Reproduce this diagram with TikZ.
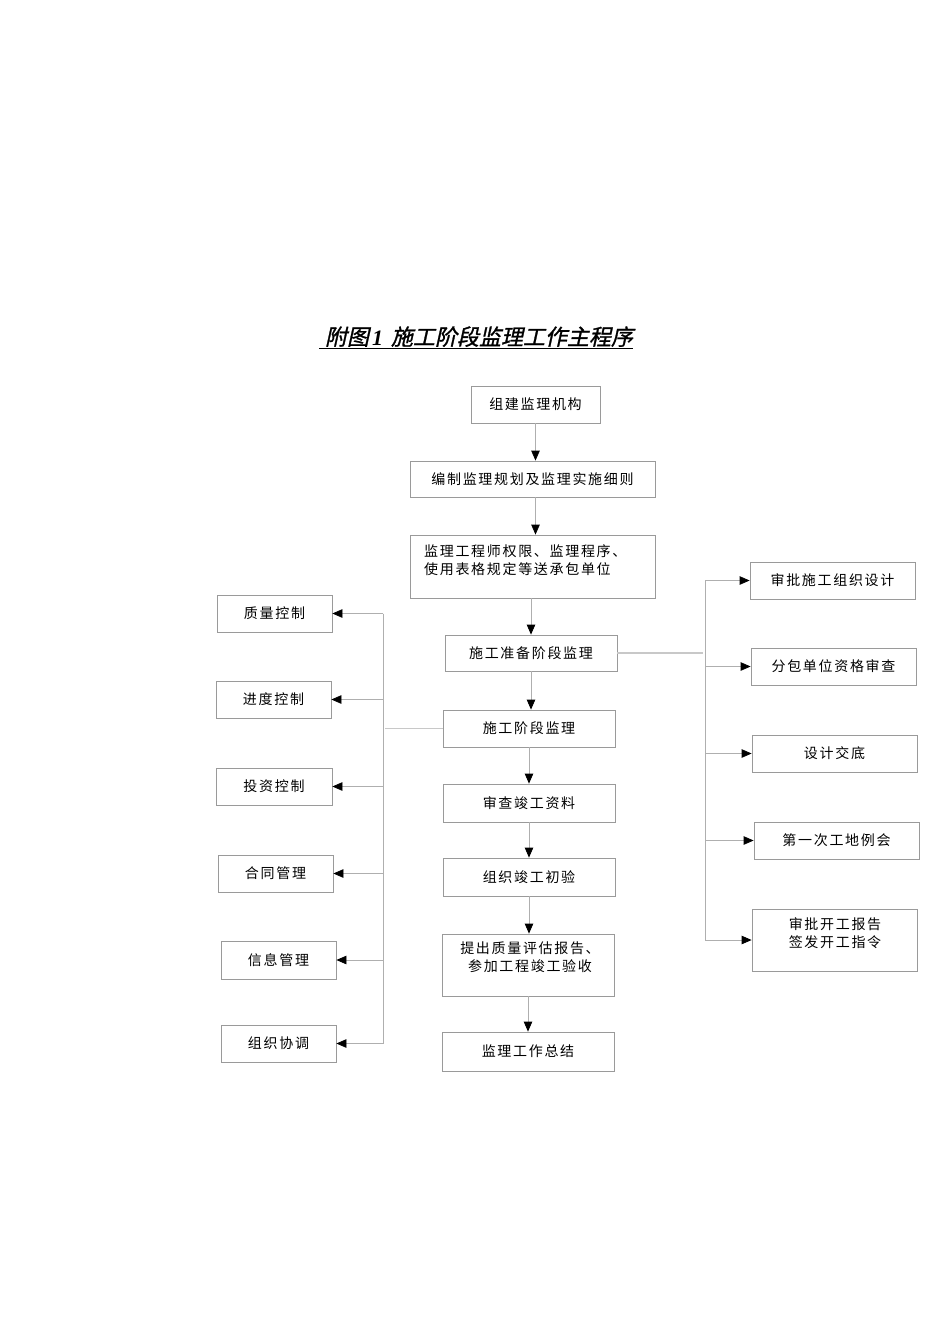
\documentclass[tikz,border=0pt]{standalone}
\usepackage{fontspec}
\setmainfont{Liberation Serif}
\newfontfamily\cjk[LetterSpace=12]{Noto Sans CJK SC}
\newfontfamily\cjkt[FakeSlant=0.22,FakeBold=1.2]{Noto Sans CJK SC}
\usetikzlibrary{arrows.meta}
\definecolor{boxgray}{HTML}{9A9A9A}
\definecolor{linegray}{HTML}{AFAFAF}
\definecolor{feedgray}{HTML}{C8C8C8}
\begin{document}
\begin{tikzpicture}[x=1pt,y=-1pt,
  box/.style={draw=boxgray, line width=0.8pt, inner sep=0pt, fill=white,
    font=\cjk\fontsize{14}{18}\selectfont},
  txt/.style={inner sep=0pt, font=\cjk\fontsize{14}{18}\selectfont},
  arr/.style={draw=linegray, line width=0.8pt, -{Triangle[length=10pt,width=8.5pt,color=black]}},
  bus/.style={draw=linegray, line width=0.8pt},
  feed/.style={draw=feedgray, line width=1.6pt}]
\useasboundingbox (0,0) rectangle (950,1344);
\fill[white] (0,0) rectangle (950,1344);

% title
\node[inner sep=0pt, anchor=base] (title) at (476,345)
  {\underline{\hspace{6pt}{\cjkt\fontsize{22}{26}\selectfont 附图}\hspace{3pt}{\bfseries\itshape\fontsize{22}{26}\selectfont 1\hspace{8pt}}{\cjkt\fontsize{22}{26}\selectfont 施工阶段监理工作主程序}}};

% main column
\node[box, minimum width=129, minimum height=37] (a) at (535.5,404.5) {组建监理机构};
\node[box, minimum width=245, minimum height=36] (b) at (532.5,479) {编制监理规划及监理实施细则};
\node[box, minimum width=245, minimum height=63] (c) at (532.5,566.5) {};
\node[txt, anchor=north west, align=left] (ct) at (424,544) {监理工程师权限、监理程序、\\使用表格规定等送承包单位};
\node[box, minimum width=172, minimum height=36] (d) at (531,653) {施工准备阶段监理};
\node[box, minimum width=172, minimum height=37] (e) at (529,728.5) {施工阶段监理};
\node[box, minimum width=172, minimum height=38] (f) at (529,803) {审查竣工资料};
\node[box, minimum width=172, minimum height=38] (g) at (529,877) {组织竣工初验};
\node[box, minimum width=172, minimum height=62] (h) at (528,965) {};
\node[txt, anchor=north, align=center] (ht) at (530,942) {提出质量评估报告、\\参加工程竣工验收};
\node[box, minimum width=172, minimum height=39] (i) at (528,1051.5) {监理工作总结};

% left column
\node[box, minimum width=115, minimum height=37] (l1) at (274.5,613.5) {质量控制};
\node[box, minimum width=115, minimum height=37] (l2) at (273.5,699.5) {进度控制};
\node[box, minimum width=116, minimum height=37] (l3) at (274,786.5) {投资控制};
\node[box, minimum width=115, minimum height=37] (l4) at (275.5,873.5) {合同管理};
\node[box, minimum width=115, minimum height=38] (l5) at (278.5,960) {信息管理};
\node[box, minimum width=115, minimum height=37] (l6) at (278.5,1043.5) {组织协调};

% right column
\node[box, minimum width=165, minimum height=37] (r1) at (832.5,580.5) {审批施工组织设计};
\node[box, minimum width=165, minimum height=37] (r2) at (833.5,666.5) {分包单位资格审查};
\node[box, minimum width=165, minimum height=37] (r3) at (834.5,753.5) {设计交底};
\node[box, minimum width=165, minimum height=37] (r4) at (836.5,840.5) {第一次工地例会};
\node[box, minimum width=165, minimum height=62] (r5) at (834.5,940) {};
\node[txt, anchor=north, align=center] (r5t) at (835,917) {审批开工报告\\签发开工指令};

% main arrows
\draw[arr] (a.south) -- (a.south |- b.north);
\draw[arr] (a.south |- b.south) -- (a.south |- c.north);
\draw[arr] (d.north |- c.south) -- (d.north);
\draw[arr] (d.south) -- (d.south |- e.north);
\draw[arr] (e.south) -- (e.south |- f.north);
\draw[arr] (f.south) -- (f.south |- g.north);
\draw[arr] (g.south) -- (g.south |- h.north);
\draw[arr] (h.south) -- (h.south |- i.north);

% left bus
\coordinate (lb) at (383,0);
\draw[feed] (e.west) -- ([xshift=2pt]lb |- e.west);
\draw[bus] (lb |- l1.east) -- (lb |- l6.east);
\foreach \n in {l1,l2,l3,l4,l5,l6}
  \draw[arr] (lb |- \n.east) -- (\n.east);

% right bus
\coordinate (rb) at (705,0);
\draw[feed] (d.east) -- ([xshift=-2pt]rb |- d.east);
\draw[bus] (rb |- r1.west) -- (rb |- r5.west);
\foreach \n in {r1,r2,r3,r4,r5}
  \draw[arr] (rb |- \n.west) -- (\n.west);
\end{tikzpicture}
\end{document}
